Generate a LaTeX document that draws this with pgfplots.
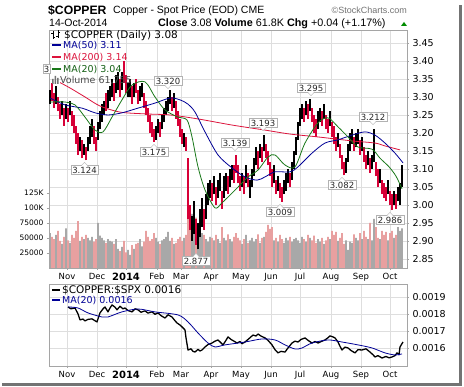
\documentclass[border=0pt]{standalone}
\usepackage{pgfplots}
\usepackage{pgfplotstable}
\pgfplotsset{compat=1.18}
\usepackage{fontspec}
\setmainfont{DejaVu Sans}
\newfontfamily\arialf{Liberation Sans}
\definecolor{barred}{RGB}{215,0,55}
\definecolor{maL}{RGB}{0,0,150}
\definecolor{maM}{RGB}{220,20,60}
\definecolor{maS}{RGB}{25,120,25}
\definecolor{volpink}{RGB}{232,160,160}
\definecolor{volgray}{RGB}{168,168,168}
\definecolor{gridc}{RGB}{222,222,222}
\definecolor{framec}{RGB}{165,165,165}

\pgfplotstableread{
x lo hi
50 3.28 3.32
56 3.28 3.33
62 3.25 3.29
66 3.24 3.28
70 3.25 3.29
80 3.15 3.19
84 3.14 3.17
88 3.15 3.19
90 3.17 3.22
92 3.19 3.24
98 3.18 3.23
100 3.21 3.26
102 3.23 3.28
104 3.25 3.29
108 3.27 3.32
110 3.29 3.33
112 3.30 3.35
116 3.31 3.36
118 3.32 3.37
122 3.32 3.37
128 3.30 3.34
130 3.30 3.35
134 3.30 3.34
140 3.29 3.33
142 3.30 3.34
156 3.18 3.22
158 3.20 3.24
162 3.21 3.25
164 3.23 3.27
166 3.25 3.29
168 3.26 3.30
170 3.28 3.32
174 3.27 3.31
184 3.16 3.20
192 2.90 2.97
194 2.92 3.01
198 2.877 2.95
200 2.91 2.99
202 2.94 3.02
206 2.96 3.03
208 3.00 3.06
210 3.02 3.07
214 3.03 3.08
218 3.02 3.07
220 3.04 3.09
224 3.02 3.08
226 3.04 3.09
230 3.05 3.10
232 3.07 3.11
242 3.05 3.09
246 3.06 3.11
250 3.02 3.07
252 3.05 3.10
254 3.08 3.13
256 3.11 3.16
260 3.13 3.17
264 3.15 3.193
274 3.06 3.11
278 3.04 3.08
284 3.03 3.07
286 3.04 3.09
288 3.06 3.10
292 3.07 3.12
294 3.10 3.15
296 3.14 3.19
298 3.18 3.23
300 3.22 3.27
302 3.24 3.28
306 3.25 3.29
310 3.26 3.295
318 3.21 3.26
320 3.23 3.27
324 3.24 3.28
330 3.22 3.26
338 3.16 3.20
346 3.09 3.13
348 3.12 3.17
350 3.15 3.20
352 3.17 3.21
356 3.16 3.20
358 3.17 3.21
362 3.15 3.19
368 3.11 3.15
372 3.10 3.14
374 3.12 3.212
380 3.06 3.10
388 3.03 3.07
394 3.00 3.04
398 3.01 3.05
400 3.00 3.06
402 3.05 3.11
}\upbars

\pgfplotstableread{
x lo hi
52 3.29 3.34
54 3.27 3.31
58 3.26 3.30
60 3.24 3.28
64 3.22 3.27
68 3.23 3.27
72 3.22 3.26
74 3.20 3.25
76 3.17 3.22
78 3.14 3.20
82 3.13 3.18
86 3.124 3.16
94 3.17 3.22
96 3.15 3.19
106 3.26 3.31
114 3.29 3.34
120 3.30 3.35
124 3.34 3.40
126 3.31 3.36
132 3.28 3.33
136 3.31 3.35
138 3.28 3.32
144 3.27 3.31
146 3.25 3.29
148 3.23 3.27
150 3.20 3.25
152 3.19 3.23
154 3.175 3.21
160 3.19 3.23
172 3.26 3.30
176 3.24 3.29
178 3.22 3.26
180 3.19 3.24
182 3.17 3.21
186 3.15 3.19
188 2.96 3.13
190 2.93 3.00
196 2.89 2.96
204 2.93 2.99
212 3.01 3.06
216 3.00 3.05
222 2.99 3.04
228 3.03 3.08
234 3.06 3.11
236 3.09 3.139
238 3.06 3.11
240 3.04 3.08
244 3.03 3.08
248 3.05 3.09
258 3.10 3.15
262 3.12 3.16
266 3.13 3.17
268 3.11 3.15
270 3.08 3.12
272 3.05 3.10
276 3.03 3.07
280 3.02 3.06
282 3.009 3.05
290 3.05 3.09
304 3.23 3.27
308 3.24 3.28
312 3.23 3.27
314 3.20 3.25
316 3.19 3.24
322 3.22 3.26
326 3.21 3.25
328 3.20 3.24
332 3.19 3.23
334 3.17 3.22
336 3.15 3.19
340 3.13 3.17
342 3.10 3.14
344 3.082 3.12
354 3.15 3.19
360 3.14 3.18
364 3.12 3.16
366 3.10 3.14
370 3.09 3.13
376 3.08 3.12
378 3.05 3.10
382 3.03 3.07
384 3.02 3.06
386 3.01 3.05
390 3.00 3.04
392 2.986 3.03
396 2.99 3.03
}\dnbars

\pgfplotstableread{
x v
50 58
56 55
62 40
66 66
70 42
80 45
84 48
88 50
90 46
92 52
98 75
100 54
102 50
104 46
108 48
110 45
112 44
116 48
118 32
122 35
128 30
130 22
134 32
140 48
142 36
156 50
158 44
162 46
164 48
166 52
168 60
170 45
174 40
184 50
192 90
194 78
198 70
200 62
202 58
206 48
208 44
210 52
214 46
218 48
220 42
224 50
226 46
230 48
232 44
242 40
246 55
250 46
252 50
254 44
256 48
260 42
264 52
274 46
278 44
284 42
286 50
288 46
292 44
294 48
296 50
298 46
300 42
302 52
306 44
310 50
318 48
320 44
324 40
330 48
338 45
346 46
348 30
350 44
352 42
356 50
358 46
362 48
368 48
372 46
374 82
380 48
388 46
394 50
398 68
400 62
402 66
}\upvol

\pgfplotstableread{
x v
52 52
54 48
58 62
60 45
64 52
68 46
72 55
74 50
76 62
78 78
82 52
86 55
94 44
96 48
106 42
114 40
120 28
124 45
126 26
132 38
136 40
138 42
144 44
146 62
148 52
150 45
152 48
154 58
160 40
172 50
176 42
178 48
180 52
182 45
186 55
188 95
190 88
196 84
204 55
212 50
216 55
222 68
228 56
234 52
236 58
238 50
240 46
244 48
248 42
258 56
262 50
266 60
268 72
270 65
272 68
276 50
280 55
282 48
290 52
304 48
308 55
312 46
314 54
316 42
322 50
326 46
328 52
332 62
334 55
336 60
340 50
342 58
344 40
354 56
360 58
364 62
366 52
370 75
376 68
378 50
382 62
384 55
386 60
390 58
392 62
396 55
}\dnvol

\pgfplotstableread{
x y
50 3.297
65 3.278
82 3.269
95 3.256
108 3.250
122 3.256
138 3.269
155 3.283
170 3.297
180 3.292
188 3.280
195 3.258
205 3.203
218 3.139
232 3.103
245 3.078
257 3.069
265 3.078
275 3.092
290 3.092
298 3.106
312 3.144
325 3.172
338 3.181
352 3.194
365 3.203
375 3.194
385 3.172
395 3.144
403 3.117
}\maFifty

\pgfplotstableread{
x y
60 3.340
70 3.325
85 3.300
100 3.275
120 3.258
145 3.253
170 3.250
198 3.239
232 3.222
265 3.208
290 3.197
318 3.189
352 3.178
375 3.172
385 3.164
400 3.153
}\maTwoHundred

\pgfplotstableread{
x y
50 3.286
65 3.286
75 3.278
85 3.244
95 3.208
103 3.203
112 3.244
122 3.292
132 3.333
145 3.342
155 3.300
165 3.264
178 3.244
187 3.236
192 3.189
198 3.106
205 3.042
215 2.992
222 3.006
232 3.033
242 3.061
248 3.078
258 3.097
268 3.133
275 3.139
285 3.111
295 3.106
305 3.172
318 3.228
328 3.242
338 3.217
348 3.189
358 3.161
372 3.155
380 3.130
389 3.106
396 3.080
402 3.045
}\maTwenty

\pgfplotstableread{
x y
68 18.41
71 18.30
75 18.35
78 18.00
80 17.65
83 17.70
85 17.59
88 17.68
92 17.71
95 17.60
97 17.53
100 18.06
103 18.30
105 18.41
108 18.12
110 18.35
112 18.53
115 18.40
117 18.24
120 18.45
123 18.30
125 18.35
128 18.20
132 18.12
135 18.30
138 18.24
141 18.10
145 18.18
148 18.05
152 18.12
155 17.98
158 18.06
161 17.90
165 17.76
168 17.95
172 17.82
175 17.60
177 17.47
180 17.35
182 17.24
185 17.06
186 16.60
188 15.88
191 15.95
193 15.80
195 15.76
198 15.92
200 15.82
202 15.88
205 16.06
208 16.20
212 16.29
215 16.40
218 16.47
221 16.30
223 16.18
226 16.45
228 16.65
231 16.50
234 16.40
237 16.29
240 16.38
242 16.25
245 16.35
249 16.55
253 16.76
256 16.70
258 16.82
261 16.70
265 16.59
268 16.45
272 16.18
275 15.90
278 15.71
281 15.80
285 15.76
288 16.00
292 16.29
295 16.40
298 16.35
301 16.50
305 16.59
308 16.45
312 16.29
315 16.38
318 16.29
322 16.40
325 16.47
328 16.60
330 16.71
333 16.65
335 16.59
338 16.35
340 16.10
342 15.88
345 16.05
348 16.00
351 15.85
355 15.71
358 15.90
362 15.88
366 15.95
370 15.76
373 15.60
375 15.47
378 15.55
382 15.41
386 15.50
389 15.42
392 15.47
395 15.55
397 15.71
399 15.60
400 16.06
403 16.35
}\ratio

\pgfplotstableread{
x y
68 18.41
78 18.35
88 18.06
102 17.82
108 17.82
122 18.12
138 18.29
155 18.12
178 17.94
188 17.53
198 16.88
208 16.29
215 16.06
225 16.18
245 16.35
262 16.53
275 16.47
285 16.18
295 15.94
302 16.00
312 16.29
328 16.47
342 16.35
358 16.18
372 16.00
385 15.71
395 15.59
402 15.65
}\ratioma

\pgfplotsset{base/.style={scale only axis, width=358pt, anchor=south west,
  xmin=49, xmax=407, axis line style={framec}, tick style={framec, line width=0.4pt},
  major tick length=2pt, tick align=outside}}
\tikzset{lbl/.style={draw=black!30, fill=white, inner xsep=1.6pt, inner ysep=1.2pt,
  font=\fontsize{8.5}{9}\selectfont, text=black!85}}
\newcommand{\lblhi}[3]{%
  \node[lbl] (L) at (#1pt,#2pt) {#3};
  \fill[white] ([xshift=-3pt,yshift=0.5pt]L.south) -- ([yshift=-3pt]L.south) -- ([xshift=3pt,yshift=0.5pt]L.south) -- cycle;
  \draw[black!30] ([xshift=-3pt]L.south) -- ([yshift=-3pt]L.south) -- ([xshift=3pt]L.south);}
\newcommand{\lbllo}[3]{%
  \node[lbl] (L) at (#1pt,#2pt) {#3};
  \fill[white] ([xshift=-3pt,yshift=-0.5pt]L.north) -- ([yshift=3pt]L.north) -- ([xshift=3pt,yshift=-0.5pt]L.north) -- cycle;
  \draw[black!30] ([xshift=-3pt]L.north) -- ([yshift=3pt]L.north) -- ([xshift=3pt]L.north);}

\begin{document}
\begin{tikzpicture}
\path[use as bounding box, fill=white] (0,0) rectangle (464pt,387pt);
% frame shadow
\fill[black!55] (459pt,2pt) rectangle (462pt,382pt);
\fill[black!55] (2pt,1pt) rectangle (462pt,4pt);

% titles
\node[anchor=base west, inner sep=0, font=\arialf\bfseries\fontsize{12.2}{13}\selectfont] at (48pt,372pt) {\$COPPER};
\node[anchor=base west, inner sep=0, font=\arialf\fontsize{10.5}{11}\selectfont] at (113pt,373pt) {Copper - Spot Price (EOD) CME};
\node[anchor=base east, inner sep=0, font=\arialf\fontsize{9}{10}\selectfont, text=black!55] at (407pt,373pt) {\textcopyright StockCharts.com};
\node[anchor=base west, inner sep=0, font=\arialf\fontsize{10.5}{11}\selectfont] at (49pt,360pt) {14-Oct-2014};
\node[anchor=base west, inner sep=0, font=\arialf\fontsize{10.8}{11}\selectfont] at (158pt,360pt) {\textbf{Close} 3.08 \textbf{Volume} 61.8K \textbf{Chg} +0.04 (+1.17\%)};
\fill[green!55!black] (401pt,361pt) -- (407pt,361pt) -- (404pt,365pt) -- cycle;

% axis A: grid and tick labels
\begin{axis}[base, at={(49pt,119pt)}, height=238pt, ymin=2.825, ymax=3.486,
  xtick={67,97,126,157,181,211,241,271,300,331,361,390},
  xticklabels={Nov,Dec,{\bfseries\fontsize{10}{10}\selectfont 2014},Feb,Mar,Apr,May,Jun,Jul,Aug,Sep,Oct},
  xtick pos=bottom, ytick pos=right,
  ytick={2.85,2.90,2.95,3.00,3.05,3.10,3.15,3.20,3.25,3.30,3.35,3.40,3.45},
  yticklabels={2.85,2.90,2.95,3.00,3.05,3.10,3.15,3.20,3.25,3.30,3.35,3.40,3.45},
  grid=major, grid style={gridc, line width=0.6pt},
  xticklabel style={font=\fontsize{8.5}{9}\selectfont},
  yticklabel style={font=\fontsize{9.5}{10}\selectfont}]
\end{axis}

% axis B: volume
\begin{axis}[base, at={(49pt,119pt)}, height=238pt, ymin=0, ymax=396.67,
  axis line style={draw=none}, xtick=\empty, ytick pos=left,
  ytick={25,50,75,100,125}, yticklabels={25000,50000,75000,100K,125K},
  yticklabel style={font=\fontsize{7.5}{8}\selectfont}]
\addplot[ybar, bar width=1.6pt, bar shift=0pt, fill=volgray, draw=none] table[x=x,y=v] {\upvol};
\addplot[ybar, bar width=1.6pt, bar shift=0pt, fill=volpink, draw=none] table[x=x,y=v] {\dnvol};
\end{axis}

% axis C: price
\begin{axis}[base, at={(49pt,119pt)}, height=238pt, ymin=2.825, ymax=3.486,
  xtick=\empty, ytick=\empty]
\addplot[barred, line width=1.1pt, -, quiver={u=0, v=\thisrow{hi}-\thisrow{lo}}] table[x=x,y=lo] {\dnbars};
\addplot[black, line width=1.1pt, -, quiver={u=0, v=\thisrow{hi}-\thisrow{lo}}] table[x=x,y=lo] {\upbars};
\addplot[maM, line width=0.8pt, smooth, tension=0.5] table[x=x,y=y] {\maTwoHundred};
\addplot[maL, line width=0.8pt, smooth, tension=0.5] table[x=x,y=y] {\maFifty};
\addplot[maS, line width=0.8pt, smooth, tension=0.5] table[x=x,y=y] {\maTwenty};
\end{axis}

% main legend
\begin{scope}[font=\fontsize{9.5}{10}\selectfont]
\draw[black, line width=0.8pt] (53pt,348pt) -- (53pt,356pt) (51pt,354pt) -- (53pt,354pt) (53pt,350pt) -- (55pt,350pt)
  (58pt,349pt) -- (58pt,357pt) (56pt,351pt) -- (58pt,351pt) (58pt,355pt) -- (60pt,355pt);
\node[anchor=base west, inner sep=0, font=\fontsize{10.5}{11}\selectfont] at (64pt,348.5pt) {\$COPPER (Daily) 3.08};
\draw[maL, line width=2pt] (52pt,342pt) -- (61pt,342pt);
\node[anchor=base west, inner sep=0, text=maL] at (63pt,338.5pt) {MA(50) 3.11};
\draw[maM, line width=2pt] (52pt,330pt) -- (61pt,330pt);
\node[anchor=base west, inner sep=0, text=maM] at (63pt,326.5pt) {MA(200) 3.14};
\draw[maS, line width=2pt] (52pt,318pt) -- (61pt,318pt);
\node[anchor=base west, inner sep=0, text=maS!80!black] at (63pt,314.5pt) {MA(20) 3.04};
\fill[black!55] (52pt,303pt) rectangle (53.5pt,308pt) (54.5pt,303pt) rectangle (56pt,311pt) (57pt,303pt) rectangle (58.5pt,309pt);
\node[anchor=base west, inner sep=0, text=black!70] at (60pt,303.5pt) {Volume 61,755};
\end{scope}

% price labels
\lbllo{84.5}{217}{3.124}
\lblhi{168}{306}{3.320}
\lbllo{154}{235}{3.175}
\lbllo{196}{126}{2.877}
\lblhi{235}{244}{3.139}
\lblhi{263}{264}{3.193}
\lbllo{280}{175}{3.009}
\lblhi{311}{299}{3.295}
\lbllo{342}{202}{3.082}
\lblhi{373}{270}{3.212}
\lbllo{390}{167}{2.986}
\node[lbl, inner xsep=1pt] at (46.5pt,318pt) {3};

% axis D: ratio panel
\begin{axis}[base, at={(49pt,21pt)}, height=82pt, ymin=14.94, ymax=19.76,
  xtick={67,97,126,157,181,211,241,271,300,331,361,390},
  xticklabels={Nov,Dec,{\bfseries\fontsize{10}{10}\selectfont 2014},Feb,Mar,Apr,May,Jun,Jul,Aug,Sep,Oct},
  xtick pos=bottom, ytick pos=right,
  ytick={16,17,18,19}, yticklabels={0.0016,0.0017,0.0018,0.0019},
  grid=major, grid style={gridc, line width=0.6pt},
  xticklabel style={font=\fontsize{8.5}{9}\selectfont},
  yticklabel style={font=\fontsize{9.5}{10}\selectfont}]
\addplot[black, line width=1.3pt, line join=round] table[x=x,y=y] {\ratio};
\addplot[maL, line width=0.8pt, smooth, tension=0.5] table[x=x,y=y] {\ratioma};
\end{axis}

\draw[black, line width=2pt] (52pt,97pt) -- (60pt,97pt);
\node[anchor=base west, inner sep=0, font=\fontsize{10.5}{11}\selectfont] at (62pt,93.5pt) {\$COPPER:\$SPX 0.0016};
\draw[maL, line width=2pt] (52pt,87pt) -- (60pt,87pt);
\node[anchor=base west, inner sep=0, font=\fontsize{9.5}{10}\selectfont, text=maL] at (62pt,83.5pt) {MA(20) 0.0016};
\end{tikzpicture}
\end{document}
